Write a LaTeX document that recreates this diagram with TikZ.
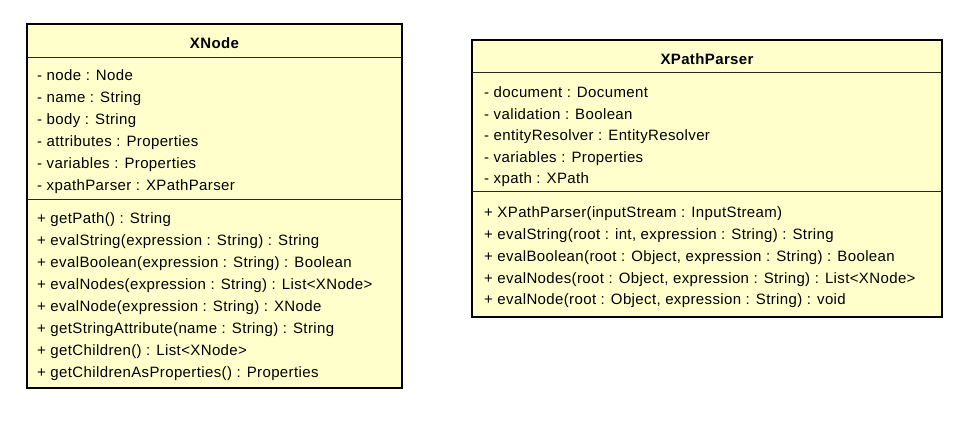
\documentclass[tikz,border=0pt]{standalone}
\usepackage{fontspec}
\setmainfont{Liberation Sans}[LetterSpace=2.5]
\definecolor{umlfill}{HTML}{FFFFCC}
\tikzset{
  classbox/.style={draw=black, line width=2.4pt, fill=umlfill},
  sepline/.style={draw=black!85, line width=1pt},
  title/.style={font=\fontsize{15}{18}\selectfont\bfseries, inner sep=0pt},
  member/.style={font=\fontsize{15}{18}\selectfont, anchor=west, inner sep=0pt, text height=14pt, text depth=3pt},
}
\begin{document}
\begin{tikzpicture}[x=1pt,y=-1pt]
\useasboundingbox (0,0) rectangle (978,422);
% XNode
\path[classbox] (27,24) rectangle (402,388);
\coordinate (xnA1) at (27,58); \coordinate (xnA2) at (402,58);
\coordinate (xnB1) at (27,200); \coordinate (xnB2) at (402,200);
\draw[sepline] (xnA1) -- (xnA2);
\draw[sepline] (xnB1) -- (xnB2);
\node[title] (xntitle) at (214.5,43) {XNode};
\node[member] (xn1) at (37,75) {- node : Node};
\node[member] (xn2) at (37,97) {- name : String};
\node[member] (xn3) at (37,119) {- body : String};
\node[member] (xn4) at (37,141) {- attributes : Properties};
\node[member] (xn5) at (37,163) {- variables : Properties};
\node[member] (xn6) at (37,185) {- xpathParser : XPathParser};
\node[member] (xm1) at (37,218) {+ getPath() : String};
\node[member] (xm2) at (37,240) {+ evalString(expression : String) : String};
\node[member] (xm3) at (37,262) {+ evalBoolean(expression : String) : Boolean};
\node[member] (xm4) at (37,284) {+ evalNodes(expression : String) : List<XNode>};
\node[member] (xm5) at (37,306) {+ evalNode(expression : String) : XNode};
\node[member] (xm6) at (37,328) {+ getStringAttribute(name : String) : String};
\node[member] (xm7) at (37,350) {+ getChildren() : List<XNode>};
\node[member] (xm8) at (37,372) {+ getChildrenAsProperties() : Properties};
% XPathParser
\path[classbox] (472,40) rectangle (942,317);
\coordinate (xpA1) at (472,73); \coordinate (xpA2) at (942,73);
\coordinate (xpB1) at (472,192); \coordinate (xpB2) at (942,192);
\draw[sepline] (xpA1) -- (xpA2);
\draw[sepline] (xpB1) -- (xpB2);
\node[title] (xptitle) at (707,59) {XPathParser};
\node[member] (xp1) at (484,92) {- document : Document};
\node[member] (xp2) at (484,114) {- validation : Boolean};
\node[member] (xp3) at (484,135) {- entityResolver : EntityResolver};
\node[member] (xp4) at (484,157) {- variables : Properties};
\node[member] (xp5) at (484,178) {- xpath : XPath};
\node[member] (xq1) at (484,212) {+ XPathParser(inputStream : InputStream)};
\node[member] (xq2) at (484,234) {+ evalString(root : int, expression : String) : String};
\node[member] (xq3) at (484,256) {+ evalBoolean(root : Object, expression : String) : Boolean};
\node[member] (xq4) at (484,278) {+ evalNodes(root : Object, expression : String) : List<XNode>};
\node[member] (xq5) at (484,299) {+ evalNode(root : Object, expression : String) : void};
\end{tikzpicture}
\end{document}
